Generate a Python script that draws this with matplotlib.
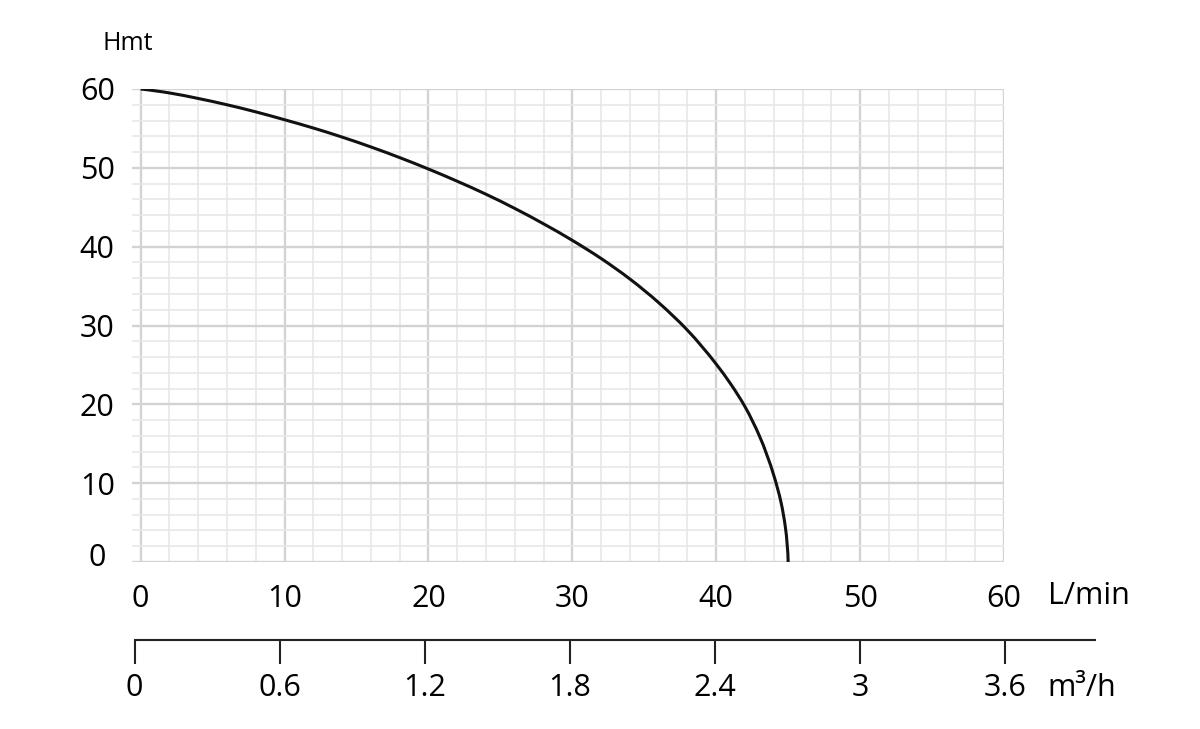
import matplotlib.pyplot as plt
import numpy as np
from matplotlib.path import Path
from matplotlib.patches import PathPatch
from matplotlib.transforms import ScaledTranslation

plt.rcParams['font.family'] = ['Open Sans', 'DejaVu Sans']

# pump curve: flow (L/min) vs head (Hmt)
flow = [0, 2, 4, 6, 8, 10, 12, 14, 16, 18, 20, 22, 24, 26, 28, 30, 32, 34, 36,
        38, 40, 41, 42, 43, 44, 44.5, 44.8, 45]
head = [60, 59.5, 58.8, 58.0, 57.1, 56.1, 55.05, 53.9, 52.65, 51.3, 49.85, 48.3,
        46.65, 44.85, 42.9, 40.8, 38.5, 35.9, 32.9, 29.4, 25.1, 22.6, 19.7,
        16.0, 11.0, 7.6, 4.5, 0]

lmin_ticks = [0, 10, 20, 30, 40, 50, 60]
head_ticks = [0, 10, 20, 30, 40, 50, 60]
m3h_ticks = [0, 0.6, 1.2, 1.8, 2.4, 3, 3.6]
m3h_labels = ["0", "0.6", "1.2", "1.8", "2.4", "3", "3.6"]


def smooth_path(xs, ys, sx=14.4, sy=7.9):
    # cubic bezier through the points (Bessel tangents), for drawing only
    p = np.column_stack([np.asarray(xs) * sx, np.asarray(ys) * sy])
    seg = np.diff(p, axis=0)
    dt = np.hypot(*seg.T)
    d = seg / dt[:, None]
    tan = np.zeros_like(p)
    tan[1:-1] = (d[:-1] * dt[1:, None] + d[1:] * dt[:-1, None]) / (dt[:-1] + dt[1:])[:, None]
    tan[0] = 2 * d[0] - tan[1]
    tan[-1] = 2 * d[-1] - tan[-2]
    verts = [p[0]]
    codes = [Path.MOVETO]
    for i in range(len(p) - 1):
        verts += [p[i] + tan[i] * dt[i] / 3, p[i + 1] - tan[i + 1] * dt[i] / 3, p[i + 1]]
        codes += [Path.CURVE4] * 3
    verts = np.array(verts) / [sx, sy]
    return Path(verts, codes)


W, H = 1200, 729
fig = plt.figure(figsize=(12, 7.29), dpi=100)

ax = fig.add_axes([132 / W, (H - 562) / H, (1004 - 132) / W, (562 - 89) / H])
ax.add_patch(PathPatch(smooth_path(flow, head), fill=False, edgecolor="#111111",
                       lw=2.2, capstyle="butt", zorder=3))
ax.set_xlim(-0.6, 60)
ax.set_ylim(0, 60)

ax.set_xticks(lmin_ticks)
ax.set_xticks(np.arange(0, 61, 2), minor=True)
ax.set_yticks(head_ticks)
ax.set_yticks(np.arange(0, 61, 2), minor=True)
ax.grid(which="major", color="#d3d3d3", lw=1.7)
ax.grid(which="minor", color="#e8e8e8", lw=1.2)
ax.set_axisbelow(True)
for s in ax.spines.values():
    s.set_visible(False)
ax.tick_params(which="both", length=0)
ax.tick_params(axis="x", labelsize=22, pad=16)
ax.tick_params(axis="y", labelsize=22, pad=25)
for lab in ax.get_yticklabels():
    lab.set_horizontalalignment("center")
lab0 = ax.get_yticklabels()[0]
lab0.set_transform(lab0.get_transform() + ScaledTranslation(0, 0.08, fig.dpi_scale_trans))

fig.text(128 / W, 1 - 44 / H, "Hmt", ha="center", va="center", fontsize=18)
fig.text(1048 / W, 1 - 596 / H, "L/min", ha="left", va="center", fontsize=22)

# second flow scale in m3/h
x0, x36, xend = 134.5, 1005, 1095
ax2 = fig.add_axes([x0 / W, (H - 640) / H, (xend - x0) / W, 0.01])
ax2.set_xlim(0, 3.6 * (xend - x0) / (x36 - x0))
ax2.set_ylim(0, 1)
ax2.set_yticks([])
ax2.set_xticks(m3h_ticks, m3h_labels)
for name, s in ax2.spines.items():
    s.set_visible(name == "bottom")
ax2.spines["bottom"].set_linewidth(1.5)
ax2.spines["bottom"].set_color("#222222")
ax2.tick_params(axis="x", length=17, width=1.5, color="#222222", labelsize=22, pad=7)
ax2.patch.set_visible(False)

fig.text(1047 / W, 1 - 688 / H, "m³/h", ha="left", va="center", fontsize=22)

fig.savefig("out.png", dpi=100)
